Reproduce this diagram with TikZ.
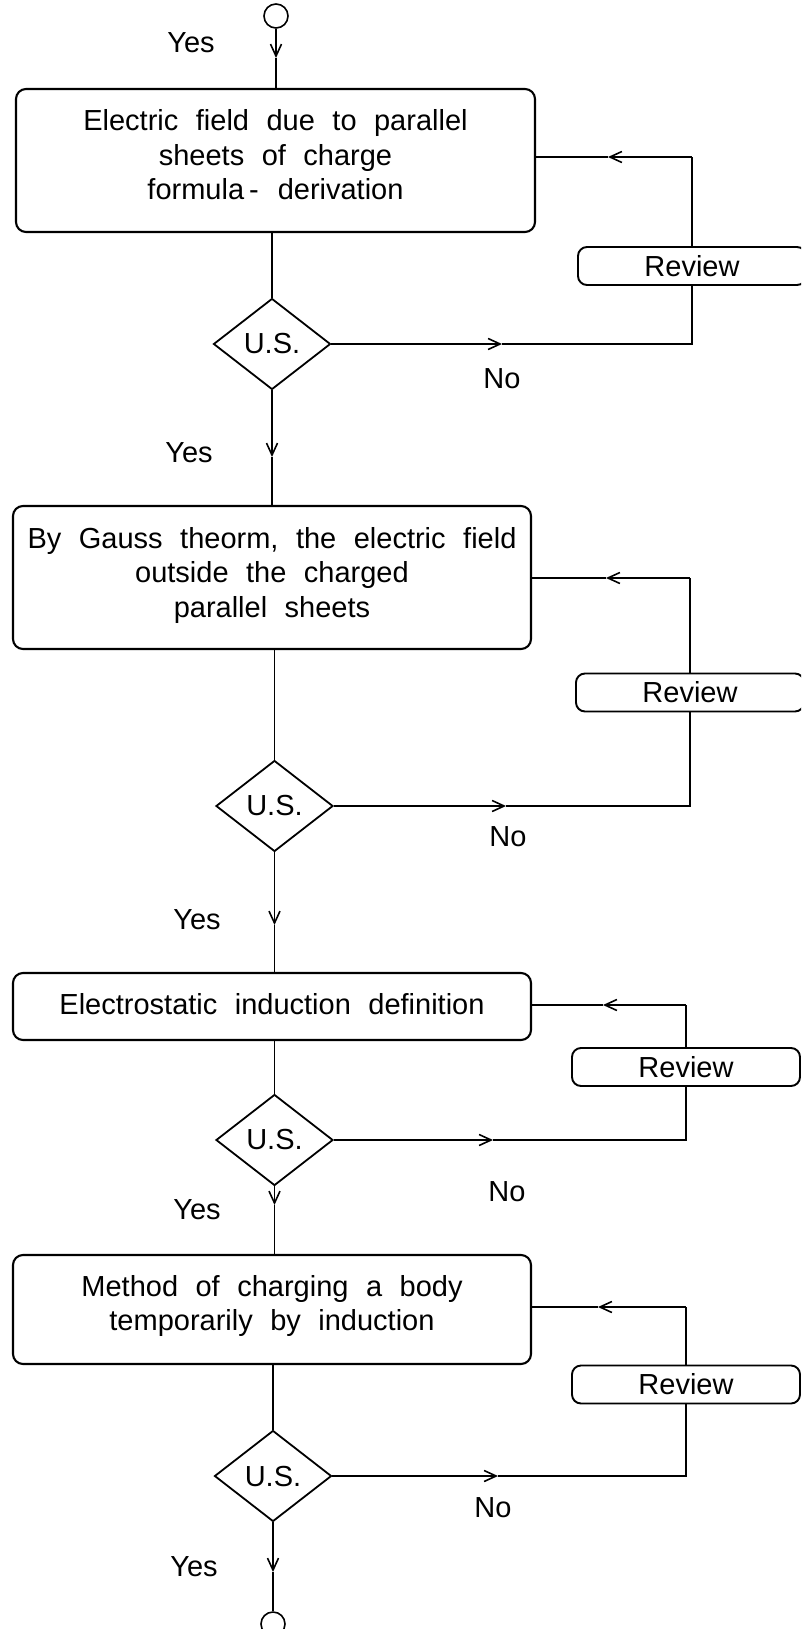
\documentclass[tikz,border=0pt]{standalone}
\usepackage{fontspec}
\setmainfont{Liberation Sans}
\usetikzlibrary{shapes.geometric,arrows.meta}
\newcommand{\widesp}{\spaceskip=17.5pt\relax}
\tikzset{
  conn/.style={line width=1.6pt},
  arr/.style={line width=1.6pt,-{Straight Barb[length=12pt,width=11pt,line width=1.6pt]}},
  stepbox/.style={draw,line width=2.1pt,rounded corners=10pt,inner sep=0pt},
  boxtext/.style={align=center,inner sep=0pt,font={\fontsize{29}{34.5}\selectfont}},
  decision/.style={diamond,draw,line width=1.8pt,minimum width=117pt,minimum height=91pt,inner sep=0pt,font={\fontsize{29}{34}\selectfont}},
  review/.style={draw,fill=white,line width=1.9pt,rounded corners=9pt,minimum width=228pt,minimum height=38pt,inner sep=0pt,font={\fontsize{29}{34}\selectfont}},
  lbl/.style={inner sep=0pt,font={\fontsize{29}{34}\selectfont}},
  term/.style={circle,draw,line width=1.6pt,minimum size=24pt,inner sep=0pt},
}
\begin{document}
\begin{tikzpicture}[x=1pt,y=-1pt]
\useasboundingbox (0,0) rectangle (801,1629);
\clip (0,0) rectangle (801,1629);
\fill[white] (0,0) rectangle (801,1629);

% terminals
\node[term] (c0) at (276,16) {};
\node[term] (c5) at (273,1624) {};

% process boxes
\node[stepbox,minimum width=519pt,minimum height=143pt] (b1) at (275.5,160.5) {};
\node[boxtext] (t1) at (275.5,155) {\widesp Electric field due to parallel\\\widesp sheets of charge\\\widesp formula\hspace{5pt}-\hspace{19pt}derivation};
\node[stepbox,minimum width=518pt,minimum height=143pt] (b2) at (272,577.5) {};
\node[boxtext] (t2) at (272,575) {\widesp By Gauss theorm, the electric field\\\widesp outside the charged\\\widesp parallel sheets};
\node[stepbox,minimum width=518pt,minimum height=67pt] (b3) at (272,1006.5) {};
\node[boxtext] (t3) at (272,1004) {\widesp Electrostatic induction definition};
\node[stepbox,minimum width=518pt,minimum height=109pt] (b4) at (272,1309.5) {};
\node[boxtext] (t4) at (272,1306) {\widesp Method of charging a body\\\widesp temporarily by induction};

% decisions
\node[decision] (d1) at (272,344) {U.S.};
\node[decision] (d2) at (274.5,806) {U.S.};
\node[decision] (d3) at (274.5,1140) {U.S.};
\node[decision] (d4) at (273,1476) {U.S.};

% review boxes
\node[review] (r1) at (692,266) {Review};
\node[review] (r2) at (690,692.5) {Review};
\node[review] (r3) at (686,1067) {Review};
\node[review] (r4) at (686,1384.5) {Review};

% labels
\node[lbl] (y1) at (191,43) {Yes};
\node[lbl] (y2) at (189,453) {Yes};
\node[lbl] (y3) at (197,920) {Yes};
\node[lbl] (y4) at (197,1210) {Yes};
\node[lbl] (y5) at (194,1567) {Yes};
\node[lbl] (n1) at (502,379) {No};
\node[lbl] (n2) at (508,837) {No};
\node[lbl] (n3) at (507,1192) {No};
\node[lbl] (n4) at (493,1508) {No};

% main flow
\coordinate (a0) at (276,58);
\draw[arr] (c0) -- (a0);
\draw[conn] (a0) -- (a0 |- b1.north);
\draw[conn] (d1.north) -- (d1.north |- b1.south);
\coordinate (a1) at (272,457);
\draw[arr] (d1.south) -- (a1);
\draw[conn] (a1) -- (a1 |- b2.north);
\draw[conn] (d2.north) -- (d2.north |- b2.south);
\coordinate (a2) at (274.5,925);
\draw[arr] (d2.south) -- (a2);
\draw[conn] (a2) -- (a2 |- b3.north);
\draw[conn] (d3.north) -- (d3.north |- b3.south);
\coordinate (a3) at (274.5,1205);
\draw[arr] (d3.south) -- (a3);
\draw[conn] (a3) -- (a3 |- b4.north);
\draw[conn] (d4.north) -- (d4.north |- b4.south);
\coordinate (a4) at (273,1572);
\draw[arr] (d4.south) -- (a4);
\draw[conn] (a4) -- (c5);

% review loop 1
\coordinate (g1) at (502,344);
\coordinate (e1) at (692,344);
\coordinate (f1) at (692,157);
\coordinate (h1) at (608,157);
\draw[arr] (d1.east) -- (g1);
\draw[conn] (g1) -- (e1) -- (r1.south);
\draw[conn] (r1.north) -- (f1);
\draw[arr] (f1) -- (h1);
\draw[conn] (h1) -- (h1 -| b1.east);

% review loop 2
\coordinate (g2) at (506,806);
\coordinate (e2) at (690,806);
\coordinate (f2) at (690,578);
\coordinate (h2) at (606,578);
\draw[arr] (d2.east) -- (g2);
\draw[conn] (g2) -- (e2) -- (r2.south);
\draw[conn] (r2.north) -- (f2);
\draw[arr] (f2) -- (h2);
\draw[conn] (h2) -- (h2 -| b2.east);

% review loop 3
\coordinate (g3) at (493,1140);
\coordinate (e3) at (686,1140);
\coordinate (f3) at (686,1005);
\coordinate (h3) at (603,1005);
\draw[arr] (d3.east) -- (g3);
\draw[conn] (g3) -- (e3) -- (r3.south);
\draw[conn] (r3.north) -- (f3);
\draw[arr] (f3) -- (h3);
\draw[conn] (h3) -- (h3 -| b3.east);

% review loop 4
\coordinate (g4) at (498,1476);
\coordinate (e4) at (686,1476);
\coordinate (f4) at (686,1307);
\coordinate (h4) at (598,1307);
\draw[arr] (d4.east) -- (g4);
\draw[conn] (g4) -- (e4) -- (r4.south);
\draw[conn] (r4.north) -- (f4);
\draw[arr] (f4) -- (h4);
\draw[conn] (h4) -- (h4 -| b4.east);
\end{tikzpicture}
\end{document}
